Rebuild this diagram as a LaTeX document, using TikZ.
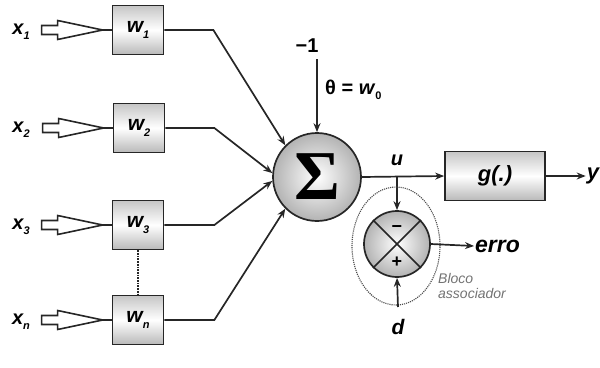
\documentclass[tikz,border=0pt]{standalone}
\usepackage{fontspec}
\setmainfont{Liberation Sans}
\newfontfamily\sigmafont{Liberation Serif}
\usetikzlibrary{arrows.meta,calc,shapes.geometric}
\newcommand\lowsub[1]{\raisebox{-0.5ex}{\fontsize{11}{11}\selectfont #1}}
\tikzset{
  wbox/.style={draw=black!85, line width=1.7pt, minimum width=51pt, minimum height=49pt,
    top color=gray!45, bottom color=gray!55, middle color=white, inner sep=0pt,
    font=\fontsize{21}{21}\selectfont\bfseries\itshape},
  lbl/.style={inner sep=1pt, font=\fontsize{20}{20}\selectfont\bfseries\itshape},
  conn/.style={draw=black!85, line width=1.7pt},
  arr/.style={conn, -{Stealth[length=9pt,width=7pt]}},
  hollow/.style={draw=black!85, line width=1.6pt, fill=white, line join=miter},
}
\newcommand\hollowin[1]{%
  \draw[hollow] ($(#1.west)+(-70,-4.5)$) -- ++(16,0) -- ++(0,-5) -- ($(#1.west)+(-9,0)$)
    -- ($(#1.west)+(-54,9.5)$) -- ++(0,-5) -- ++(-16,0) -- cycle;
  \draw[conn] ($(#1.west)+(-10,0)$) -- (#1.west);}
\begin{document}
\begin{tikzpicture}[x=1pt,y=-1pt]
\useasboundingbox (0,0) rectangle (600,367);
% weight boxes
\node[wbox] (w1) at (138,30) {w\lowsub{1}};
\node[wbox] (w2) at (139,128) {w\lowsub{2}};
\node[wbox] (w3) at (138,225) {w\lowsub{3}};
\node[wbox] (wn) at (138,320) {w\lowsub{n}};
% input labels
\node[lbl] (x1) at (21,32) {x\lowsub{1}};
\node[lbl] (x2) at (21,130) {x\lowsub{2}};
\node[lbl] (x3) at (21,227) {x\lowsub{3}};
\node[lbl] (xn) at (21,322) {x\lowsub{n}};
\hollowin{w1}\hollowin{w2}\hollowin{w3}\hollowin{wn}
\draw[conn, densely dotted, line width=1.2pt] (w3.south) -- (wn.north);
% summing junction
\node[circle, draw=black!85, line width=1.7pt, minimum size=88pt, inner sep=0pt,
  inner color=white, outer color=gray!60,
  font=\fontsize{70}{70}\sigmafont\bfseries] (S) at (317,177) {\raisebox{-1pt}{Σ}};
\draw[arr] (w1.east) -- ++(49,0) -- (S.135);
\draw[arr] (w2.east) -- ++(49,0) -- (S.175);
\draw[arr] (w3.east) -- ++(50,0) -- (S.185);
\draw[arr] (wn.east) -- ++(50,0) -- (S.225);
% bias
\node[inner sep=1pt, font=\fontsize{20}{20}\selectfont\bfseries] (m1) at (307,46) {−1};
\coordinate (bstart) at (317,59);
\draw[arr] (bstart) -- (S.north);
\node[inner sep=1pt, font=\fontsize{20}{20}\selectfont\bfseries, anchor=west] (theta) at (324,90) {θ = \textit{w}\lowsub{0}};
% output path
\node[wbox, minimum width=100pt, minimum height=49pt, font=\fontsize{22}{22}\selectfont\bfseries\itshape] (g) at (495,176) {g(.)};
\draw[arr] (S.east) -- (g.west);
\node[lbl, font=\fontsize{22}{22}\selectfont\bfseries\itshape] (y) at (593,176) {y};
\draw[arr] (g.east) -- (y.west);
\node[lbl] (u) at (397,160) {u};
% associator block
\node[circle, draw=black!85, line width=1.7pt, minimum size=66pt, inner sep=0pt,
  inner color=white, outer color=gray!60] (C) at (397,244) {};
\draw[conn] (C.45) -- (C.225);
\draw[conn] (C.135) -- (C.315);
\node[font=\fontsize{18}{18}\selectfont\bfseries, inner sep=0pt] (minus) at (397,229) {−};
\node[font=\fontsize{18}{18}\selectfont\bfseries, inner sep=0pt] (plus) at (397,262) {+};
\draw[arr] (C.north |- S.east) -- (C.north);
\node[ellipse, draw=black!70, densely dotted, line width=1.1pt, minimum width=88pt,
  minimum height=118pt, inner sep=0pt] (E) at (396,246) {};
\node[lbl, font=\fontsize{21}{21}\selectfont\bfseries\itshape] (d) at (398,327) {d};
\coordinate (dstart) at (398,307);
\draw[arr] (dstart) -- (C.south);
\node[lbl, anchor=west, font=\fontsize{23}{23}\selectfont\bfseries\itshape] (erro) at (474,246) {erro};
\draw[arr] (C.east) -- (erro.west);
\node[anchor=west, align=left, text=black!55, inner sep=0pt,
  font=\fontsize{14}{15}\selectfont\itshape] (bloco) at (438,286) {Bloco\\associador};
\end{tikzpicture}
\end{document}
